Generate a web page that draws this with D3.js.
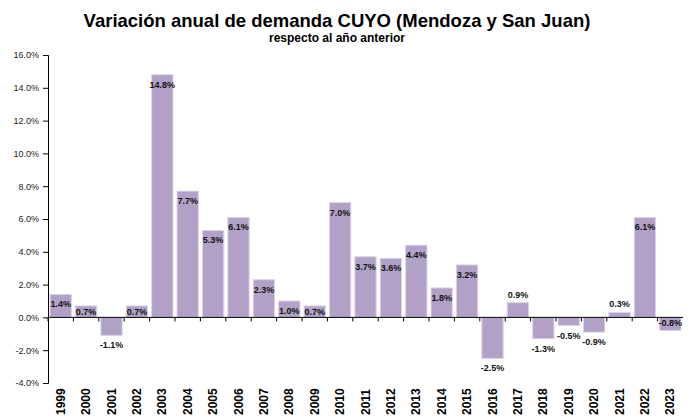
<!DOCTYPE html>
<html>
<head>
<meta charset="utf-8">
<script src="https://cdn.jsdelivr.net/npm/d3@7"></script>
<style>
  body { margin: 0; background: #fff; }
  svg { display: block; font-family: "Liberation Sans", Arial, sans-serif; }
</style>
</head>
<body>
<svg id="chart"></svg>
<script>
// data
const years = ["1999","2000","2001","2002","2003","2004","2005","2006","2007","2008","2009","2010","2011",
               "2012","2013","2014","2015","2016","2017","2018","2019","2020","2021","2022","2023"];
const values = [1.4, 0.7, -1.1, 0.7, 14.8, 7.7, 5.3, 6.1, 2.3, 1.0, 0.7, 7.0, 3.7,
                3.6, 4.4, 1.8, 3.2, -2.5, 0.9, -1.3, -0.5, -0.9, 0.3, 6.1, -0.8];
const yTicks = [-4, -2, 0, 2, 4, 6, 8, 10, 12, 14, 16];

const width = 691, height = 418;
const margin = { top: 55, right: 8, bottom: 35, left: 48 };
// labels that Excel put on the other side of the bar end
const flipLabel = new Set(["2017", "2021", "2023"]);
// plain hyphen minus, like the original
const pct = d => d.toFixed(1) + "%";

const svg = d3.select("#chart").attr("width", width).attr("height", height);

const x = d3.scaleBand().domain(years)
  .range([margin.left, 683])
  .paddingInner(0.16).paddingOuter(0.08);
const y = d3.scaleLinear().domain([-4, 16]).range([383, 55]);

// title
svg.append("text")
  .attr("x", 337).attr("y", 27)
  .attr("text-anchor", "middle")
  .style("font-size", "18.5px").style("font-weight", "bold").style("fill", "#000")
  .text("Variación anual de demanda CUYO (Mendoza y San Juan)");
svg.append("text")
  .attr("x", 337).attr("y", 42)
  .attr("text-anchor", "middle")
  .style("font-size", "12px").style("font-weight", "bold").style("fill", "#000")
  .text("respecto al año anterior");

// bars
svg.append("g").selectAll("rect")
  .data(values)
  .join("rect")
    .attr("x", (d, i) => x(years[i]))
    .attr("width", x.bandwidth())
    .attr("y", d => y(Math.max(0, d)))
    .attr("height", d => Math.abs(y(d) - y(0)))
    .style("fill", "#b2a1c7")
    .style("stroke", "#ddd4e8")
    .style("stroke-width", 1);

// y axis
const yAxis = svg.append("g")
  .attr("transform", `translate(${margin.left},0)`)
  .call(d3.axisLeft(y).tickValues(yTicks).tickSize(5).tickPadding(4).tickFormat(pct));
yAxis.select(".domain").attr("stroke", "#000");
yAxis.selectAll(".tick line").attr("stroke", "#000");
yAxis.selectAll(".tick text")
  .style("font-size", "9px").style("fill", "#222")
  .style("font-family", "Liberation Sans, Arial, sans-serif");

// zero line with ticks between categories
const bounds = d3.range(years.length).map(i => margin.left + i * (683 - margin.left) / years.length);
svg.append("line")
  .attr("x1", margin.left).attr("x2", 683)
  .attr("y1", y(0)).attr("y2", y(0))
  .attr("stroke", "#000");
svg.append("g").selectAll("line")
  .data(bounds)
  .join("line")
    .attr("x1", d => d).attr("x2", d => d)
    .attr("y1", y(0)).attr("y2", y(0) + 4)
    .attr("stroke", "#000");

// year labels, rotated
svg.append("g").selectAll("text")
  .data(years)
  .join("text")
    .attr("transform", d => `translate(${x(d) + x.bandwidth() / 2 + 4},415) rotate(-90)`)
    .style("font-size", "12px").style("font-weight", "bold").style("fill", "#000")
    .text(d => d);

// value labels
svg.append("g").selectAll("text")
  .data(values)
  .join("text")
    .attr("x", (d, i) => x(years[i]) + x.bandwidth() / 2)
    .attr("y", (d, i) => {
      const flip = flipLabel.has(years[i]);
      if (d >= 0) {
        if (flip) return y(d) - 5;
        return Math.min(y(d) + 13, y(0) - 2.5);
      }
      if (flip) return y(d) - 5;
      return y(d) + 13;
    })
    .attr("text-anchor", "middle")
    .style("font-size", "9px").style("font-weight", "bold").style("fill", "#111")
    .text(pct);
</script>
</body>
</html>
